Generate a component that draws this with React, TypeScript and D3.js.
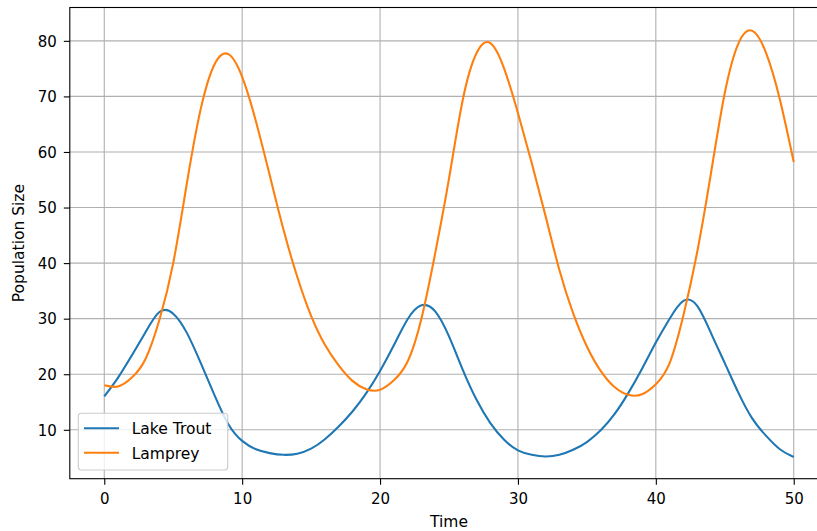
import { useEffect, useRef } from "react";
import * as d3 from "d3";

const time = [
  0, 1, 2, 3, 4, 5, 6, 7, 8, 9, 10, 11, 12, 13, 14, 15, 16, 17, 18, 19, 20, 21, 22, 23, 24, 25,
  26, 27, 28, 29, 30, 31, 32, 33, 34, 35, 36, 37, 38, 39, 40, 41, 42, 43, 44, 45, 46, 47, 48, 49, 50,
];

const lakeTrout = [
  16.0, 19.4, 23.4, 27.6, 31.2, 30.9, 27.4, 22.0, 16.2, 11.0, 8.0, 6.5, 5.8, 5.5, 5.7, 6.6, 8.3,
  10.6, 13.3, 16.6, 20.6, 25.2, 29.9, 32.4, 31.3, 26.8, 20.8, 15.4, 11.2, 8.2, 6.3, 5.5, 5.2, 5.5,
  6.4, 7.8, 9.9, 12.8, 16.6, 21.0, 25.7, 30.0, 33.2, 32.3, 27.4, 22.0, 16.6, 12.0, 8.9, 6.5, 5.1,
];

const lamprey = [
  18.0, 17.8, 19.4, 22.8, 29.8, 40.0, 54.5, 67.8, 75.8, 77.6, 73.5, 65.5, 55.8, 46.0, 37.5, 30.5,
  25.3, 21.6, 18.8, 17.3, 17.2, 18.9, 22.3, 30.0, 41.8, 55.2, 69.4, 77.8, 79.6, 75.0, 67.0, 58.0,
  48.5, 38.8, 31.0, 25.0, 20.6, 17.7, 16.3, 16.4, 18.2, 22.0, 30.6, 42.0, 56.2, 70.6, 79.6, 81.8,
  77.8, 69.4, 58.2,
];

const xTicks = [0, 10, 20, 30, 40, 50];
const yTicks = [10, 20, 30, 40, 50, 60, 70, 80];

const seriesNames = ["Lake Trout", "Lamprey"];
const seriesColors = ["#1f77b4", "#ff7f0e"];

export default function App() {
  const svgRef = useRef<SVGSVGElement | null>(null);

  useEffect(() => {
    if (!svgRef.current) return;
    const svg = d3.select(svgRef.current);
    svg.selectAll("*").remove();

    const width = 817;
    const height = 531;
    const left = 69.8;
    const right = 828.2;
    const top = 7.5;
    const bottom = 478.7;
    const font = "DejaVu Sans, sans-serif";

    svg.attr("width", width).attr("height", height);

    const x = d3.scaleLinear().domain([-2.5, 52.5]).range([left, right]);
    const y = d3.scaleLinear().domain([1.2, 86.0]).range([bottom, top]);

    svg
      .append("rect")
      .attr("width", width)
      .attr("height", height)
      .attr("fill", "white");

    // clip for the plotting area
    svg
      .append("defs")
      .append("clipPath")
      .attr("id", "plot-clip")
      .append("rect")
      .attr("x", left)
      .attr("y", top)
      .attr("width", right - left)
      .attr("height", bottom - top);

    // grid
    const grid = svg.append("g").attr("stroke", "#b0b0b0").attr("stroke-width", 1.1);
    grid
      .selectAll("line.vx")
      .data(xTicks)
      .enter()
      .append("line")
      .attr("x1", (d) => x(d))
      .attr("x2", (d) => x(d))
      .attr("y1", top)
      .attr("y2", bottom);
    grid
      .selectAll("line.hy")
      .data(yTicks)
      .enter()
      .append("line")
      .attr("x1", left)
      .attr("x2", right)
      .attr("y1", (d) => y(d))
      .attr("y2", (d) => y(d));

    // series lines
    const line = d3
      .line<number>()
      .x((_, i) => x(time[i]))
      .y((d) => y(d))
      .curve(d3.curveNatural);

    const plot = svg.append("g").attr("clip-path", "url(#plot-clip)");
    [lakeTrout, lamprey].forEach((values, i) => {
      plot
        .append("path")
        .datum(values)
        .attr("d", line)
        .attr("fill", "none")
        .attr("stroke", seriesColors[i])
        .attr("stroke-width", 2.1)
        .attr("stroke-linejoin", "round")
        .attr("stroke-linecap", "butt");
    });

    // spines
    svg
      .append("rect")
      .attr("x", left)
      .attr("y", top)
      .attr("width", right - left)
      .attr("height", bottom - top)
      .attr("fill", "none")
      .attr("stroke", "#000")
      .attr("stroke-width", 1.1);

    // axes
    const xAxis = svg
      .append("g")
      .attr("transform", `translate(0,${bottom})`)
      .call(d3.axisBottom(x).tickValues(xTicks).tickSize(6).tickSizeOuter(0).tickFormat(d3.format("d")));
    xAxis.select(".domain").remove();
    xAxis.selectAll("line").attr("stroke", "#000").attr("stroke-width", 1.1);
    xAxis
      .selectAll("text")
      .attr("y", 25.3)
      .attr("dy", 0)
      .attr("fill", "#000")
      .attr("font-size", 15)
      .attr("font-family", font);

    const yAxis = svg
      .append("g")
      .attr("transform", `translate(${left},0)`)
      .call(d3.axisLeft(y).tickValues(yTicks).tickSize(6).tickSizeOuter(0).tickPadding(7).tickFormat(d3.format("d")));
    yAxis.select(".domain").remove();
    yAxis.selectAll("line").attr("stroke", "#000").attr("stroke-width", 1.1);
    yAxis
      .selectAll("text")
      .attr("dy", "0.35em")
      .attr("fill", "#000")
      .attr("font-size", 15)
      .attr("font-family", font);

    // axis labels
    svg
      .append("text")
      .attr("x", (left + right) / 2)
      .attr("y", 527)
      .attr("text-anchor", "middle")
      .attr("font-size", 15.5)
      .attr("font-family", font)
      .text("Time");

    svg
      .append("text")
      .attr("transform", `translate(24,${(top + bottom) / 2}) rotate(-90)`)
      .attr("text-anchor", "middle")
      .attr("font-size", 15.5)
      .attr("font-family", font)
      .text("Population Size");

    // legend
    const legend = svg.append("g").attr("transform", "translate(78.3,413.3)");
    legend
      .append("rect")
      .attr("width", 149.4)
      .attr("height", 56.7)
      .attr("rx", 3)
      .attr("fill", "white")
      .attr("fill-opacity", 0.8)
      .attr("stroke", "#cccccc")
      .attr("stroke-width", 1.1);

    const items = legend
      .selectAll("g.item")
      .data(seriesNames)
      .enter()
      .append("g")
      .attr("transform", (_, i) => `translate(0,${15 + i * 24.4})`);
    items
      .append("line")
      .attr("x1", 5.7)
      .attr("x2", 40.7)
      .attr("stroke", (_, i) => seriesColors[i])
      .attr("stroke-width", 2.1);
    items
      .append("text")
      .attr("x", 53.4)
      .attr("dy", "0.38em")
      .attr("font-size", 15.5)
      .attr("font-family", font)
      .attr("fill", "#000")
      .text((d) => d);
  }, []);

  return (
    <div style={{ position: "absolute", left: 0, top: 0 }}>
      <svg ref={svgRef}></svg>
    </div>
  );
}
